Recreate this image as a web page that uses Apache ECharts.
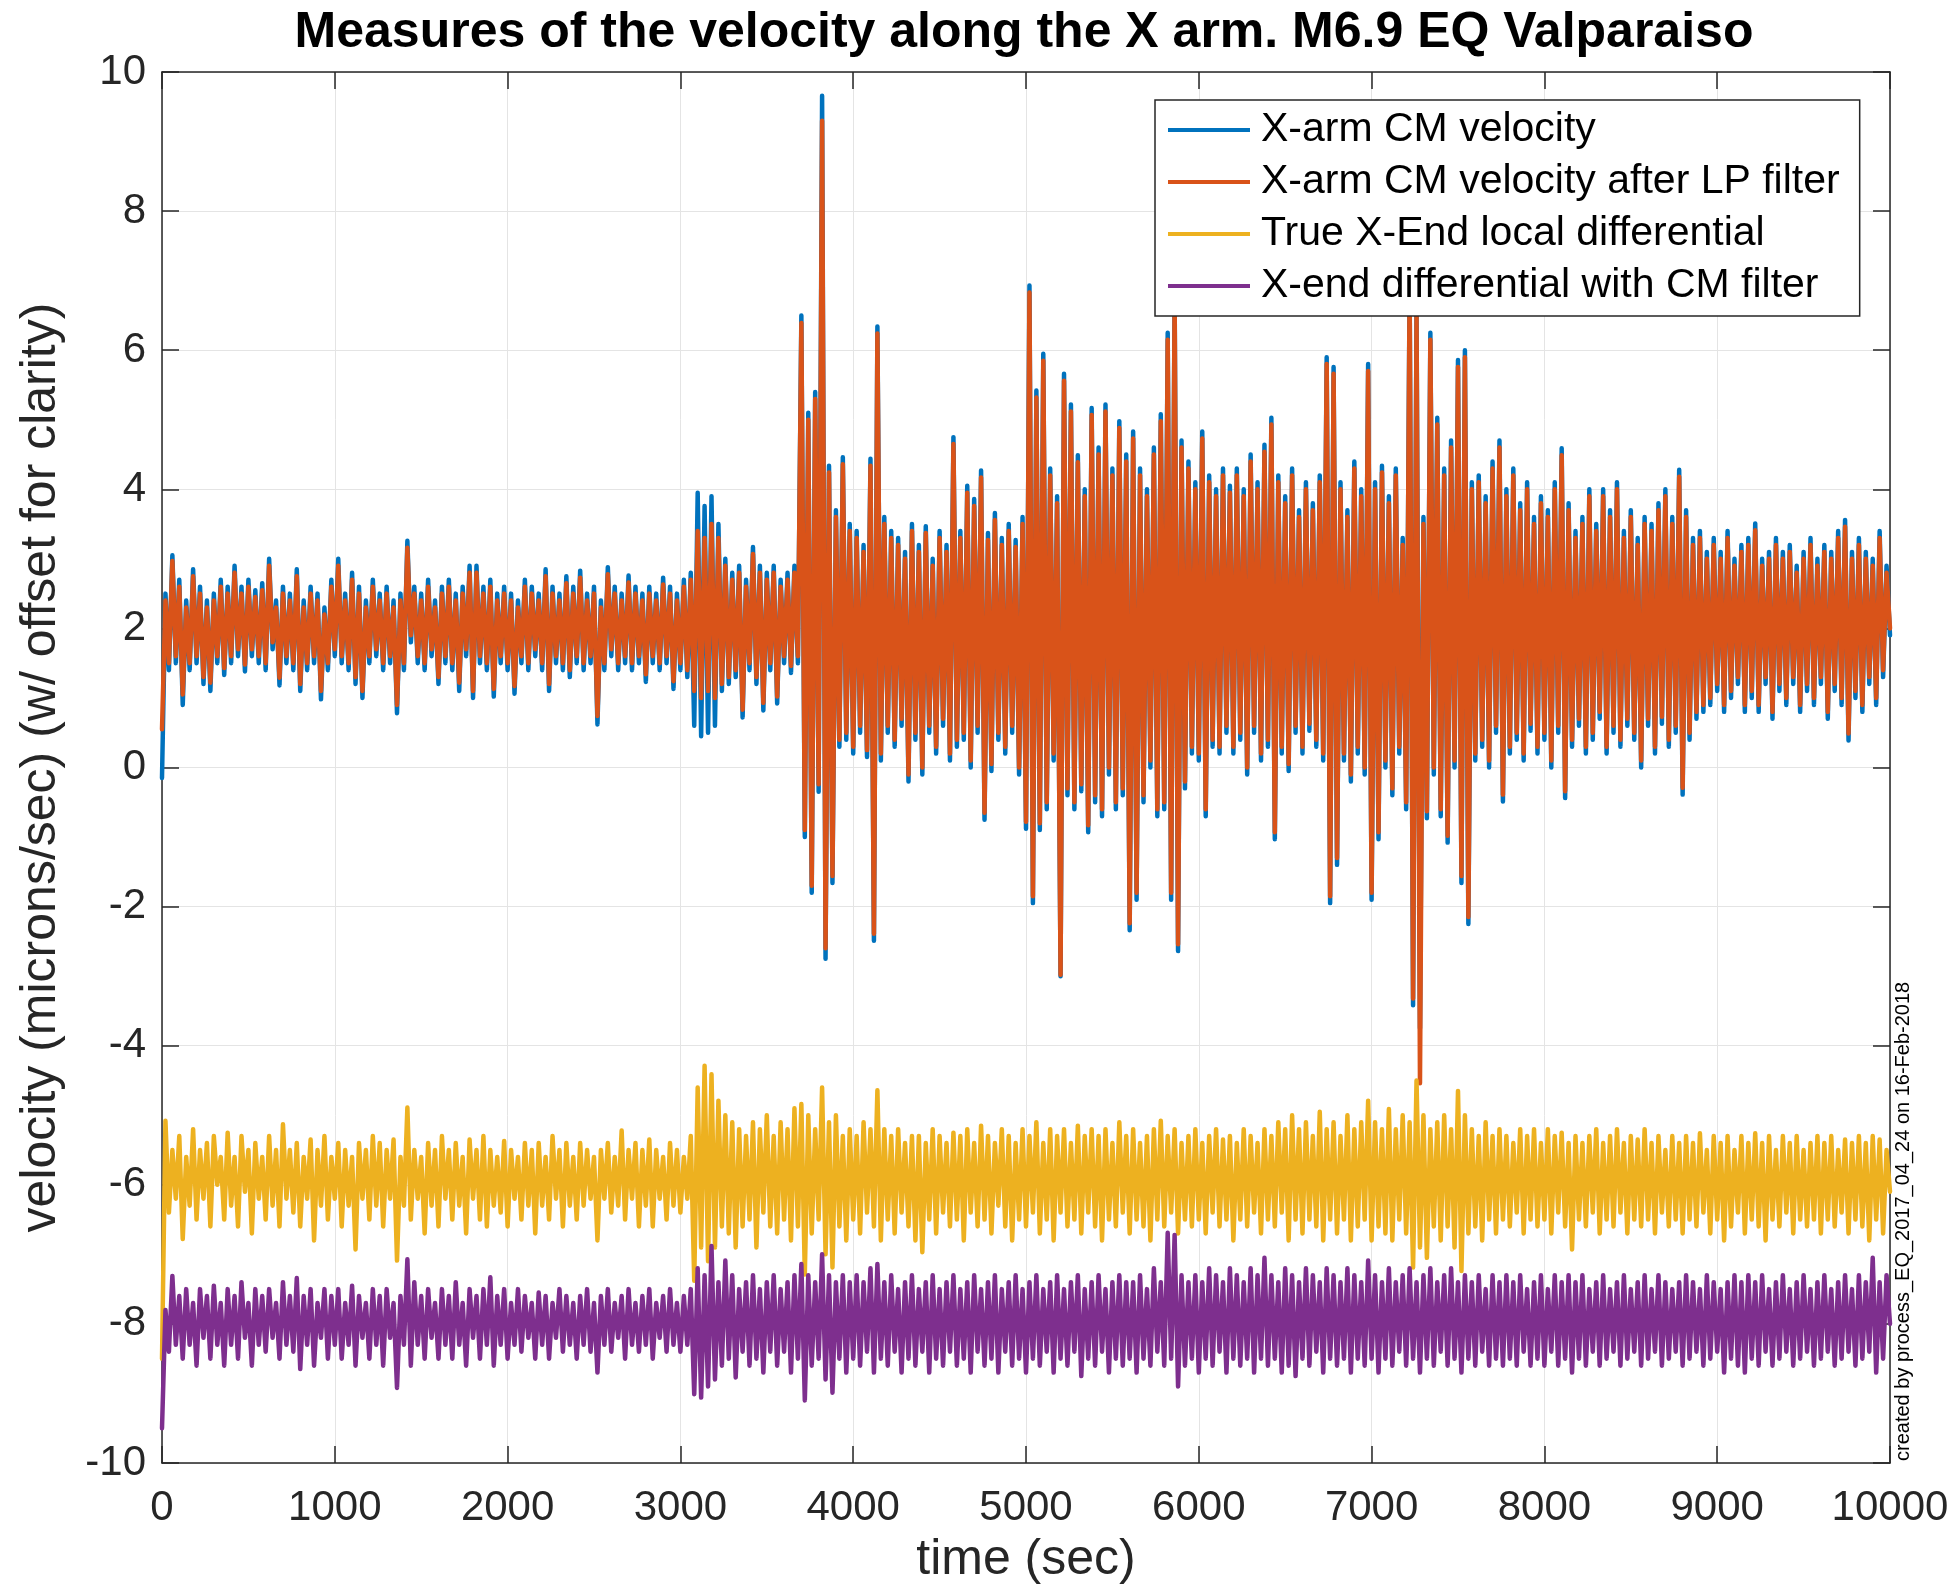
<!DOCTYPE html>
<html>
<head>
<meta charset="utf-8">
<title>X arm velocity - M6.9 EQ Valparaiso</title>
<script src="https://cdn.jsdelivr.net/npm/echarts@6/dist/echarts.min.js"></script>
<style>
  html, body { margin: 0; padding: 0; background: #ffffff; }
  #chart { width: 1954px; height: 1594px; }
</style>
</head>
<body>
<div id="chart"></div>
<script>
// Seconds between consecutive samples of every trace below.
const SAMPLE_STEP = 20;

// X-arm CM velocity (raw), microns/sec, offset +2
const cmVelocity = [
  -0.15, 2.5, 1.4, 3.05, 1.5, 2.7, 0.9, 2.4, 1.4, 2.85,
  1.5, 2.6, 1.2, 2.4, 1.1, 2.5, 1.5, 2.7, 1.33, 2.6,
  1.5, 2.9, 1.6, 2.6, 1.38, 2.7, 1.6, 2.55, 1.5, 2.65,
  1.4, 3.0, 1.7, 2.4, 1.18, 2.6, 1.5, 2.5, 1.4, 2.85,
  1.1, 2.4, 1.4, 2.6, 1.5, 2.5, 0.98, 2.3, 1.4, 2.7,
  1.6, 3.0, 1.5, 2.5, 1.4, 2.8, 1.2, 2.6, 1.0, 2.4,
  1.5, 2.7, 1.6, 2.5, 1.4, 2.6, 1.5, 2.4, 0.78, 2.5,
  1.4, 3.26, 1.8, 2.6, 1.5, 2.5, 1.4, 2.7, 1.6, 2.4,
  1.2, 2.6, 1.5, 2.7, 1.4, 2.5, 1.1, 2.6, 1.6, 2.9,
  1.0, 2.9, 1.5, 2.6, 1.4, 2.7, 1.02, 2.5, 1.5, 2.6,
  1.4, 2.5, 1.06, 2.4, 1.5, 2.7, 1.4, 2.6, 1.6, 2.5,
  1.4, 2.85, 1.1, 2.6, 1.5, 2.5, 1.4, 2.75, 1.3, 2.6,
  1.5, 2.83, 1.4, 2.5, 1.5, 2.6, 0.62, 2.4, 1.4, 2.88,
  1.6, 2.6, 1.4, 2.5, 1.5, 2.76, 1.4, 2.6, 1.5, 2.5,
  1.23, 2.6, 1.5, 2.5, 1.4, 2.73, 1.5, 2.6, 1.13, 2.5,
  1.4, 2.7, 1.3, 2.8, 0.6, 3.95, 0.45, 3.76, 0.5, 3.9,
  0.6, 3.5, 1.1, 3.0, 1.2, 2.8, 1.3, 2.9, 0.72, 2.7,
  1.4, 3.17, 1.2, 2.9, 0.82, 2.8, 1.4, 2.9, 0.92, 2.7,
  1.5, 2.8, 1.36, 2.9, 1.5, 6.5, -1.0, 5.1, -1.8, 5.4,
  -0.35, 9.66, -2.75, 4.34, -1.66, 3.7, 0.3, 4.46, 0.4, 3.5,
  0.2, 3.4, 0.5, 3.2, 0.15, 4.44, -2.49, 6.34, 0.1, 3.6,
  0.5, 3.4, 0.3, 3.3, 0.6, 3.1, -0.2, 3.5, 0.4, 3.2,
  -0.1, 3.47, 0.5, 3.0, 0.2, 3.4, 0.6, 3.2, 0.1, 4.75,
  0.3, 3.4, 0.4, 4.05, 0.0, 3.86, 0.5, 4.27, -0.75, 3.37,
  -0.05, 3.66, 0.4, 3.3, 0.2, 3.5, 0.5, 3.27, -0.1, 3.6,
  -0.88, 6.93, -1.95, 5.42, -0.9, 5.95, -0.6, 4.3, 0.1, 3.9,
  -3.0, 5.66, -0.4, 5.22, -0.6, 4.49, -0.34, 4.0, -0.93, 5.17,
  -0.5, 4.6, -0.7, 5.22, -0.1, 4.3, -0.6, 4.98, -0.4, 4.5,
  -2.34, 4.83, -1.9, 4.3, -0.5, 4.0, 0.0, 4.6, -0.7, 5.08,
  -0.6, 6.25, -1.9, 6.88, -2.64, 4.7, -0.3, 4.4, 0.2, 4.1,
  0.1, 4.83, -0.7, 4.2, 0.3, 4.0, 0.2, 4.3, 0.5, 4.05,
  0.2, 4.3, 0.4, 4.0, -0.1, 4.5, 0.5, 4.1, 0.1, 4.64,
  0.3, 5.03, -1.03, 4.2, 0.2, 3.9, -0.05, 4.3, 0.5, 3.7,
  0.2, 4.1, 0.53, 3.8, 0.3, 4.2, 0.1, 5.9, -1.95, 5.76,
  -1.4, 4.1, 0.1, 3.7, -0.2, 4.4, 0.2, 4.0, -0.1, 5.8,
  -1.9, 4.1, -1.03, 4.34, 0.0, 3.9, -0.4, 4.3, 0.2, 3.3,
  -0.6, 7.0, -3.42, 6.6, -3.75, 3.6, -0.73, 6.25, -0.1, 5.03,
  -0.7, 4.3, -1.08, 4.7, 0.0, 5.86, -1.66, 6.0, -2.25, 4.1,
  0.1, 4.2, 0.3, 3.9, 0.0, 4.4, 0.5, 4.7, -0.49, 4.0,
  0.2, 4.3, 0.4, 3.8, 0.1, 4.1, 0.53, 3.6, 0.2, 3.9,
  0.4, 3.7, 0.0, 4.1, 0.5, 4.59, -0.44, 3.8, 0.3, 3.4,
  0.6, 3.6, 0.2, 4.0, 0.4, 3.5, 0.7, 4.0, 0.2, 3.7,
  0.5, 4.1, 0.3, 3.4, 0.6, 3.7, 0.4, 3.3, 0.0, 3.6,
  0.6, 3.5, 0.2, 3.8, 0.63, 4.0, 0.3, 3.6, 0.5, 4.28,
  -0.39, 3.7, 0.4, 3.3, 0.7, 3.4, 0.8, 3.1, 0.9, 3.3,
  1.1, 3.1, 0.8, 3.4, 1.0, 3.0, 1.2, 3.2, 0.8, 3.3,
  1.0, 3.51, 0.8, 3.0, 1.2, 3.1, 0.7, 3.3, 1.1, 3.1,
  0.9, 3.2, 1.2, 2.9, 0.8, 3.1, 1.1, 3.3, 0.9, 3.0,
  1.2, 3.2, 0.7, 3.1, 1.1, 3.4, 0.9, 3.56, 0.39, 3.1,
  1.0, 3.3, 0.8, 3.1, 1.2, 3.0, 0.9, 3.4, 1.3, 2.9,
  1.9
];

// X-arm CM velocity after the low-pass filter, offset +2
const cmVelocityLP = [
  0.55, 2.4, 1.5, 2.97, 1.6, 2.6, 1.05, 2.3, 1.5, 2.75,
  1.6, 2.5, 1.3, 2.3, 1.22, 2.4, 1.6, 2.6, 1.43, 2.5,
  1.6, 2.8, 1.7, 2.5, 1.48, 2.6, 1.7, 2.45, 1.6, 2.55,
  1.5, 2.9, 1.8, 2.3, 1.29, 2.5, 1.6, 2.4, 1.5, 2.75,
  1.2, 2.3, 1.5, 2.5, 1.6, 2.4, 1.1, 2.2, 1.5, 2.6,
  1.7, 2.9, 1.6, 2.4, 1.5, 2.7, 1.3, 2.5, 1.1, 2.3,
  1.6, 2.6, 1.7, 2.4, 1.5, 2.5, 1.6, 2.3, 0.9, 2.4,
  1.5, 3.16, 1.9, 2.5, 1.6, 2.4, 1.5, 2.6, 1.7, 2.3,
  1.3, 2.5, 1.6, 2.6, 1.5, 2.4, 1.22, 2.5, 1.7, 2.8,
  1.1, 2.8, 1.6, 2.5, 1.5, 2.6, 1.13, 2.4, 1.6, 2.5,
  1.5, 2.4, 1.17, 2.3, 1.6, 2.6, 1.5, 2.5, 1.7, 2.4,
  1.5, 2.75, 1.2, 2.5, 1.6, 2.4, 1.5, 2.65, 1.4, 2.5,
  1.6, 2.73, 1.5, 2.4, 1.6, 2.5, 0.74, 2.3, 1.5, 2.78,
  1.7, 2.5, 1.5, 2.4, 1.6, 2.66, 1.5, 2.5, 1.6, 2.4,
  1.34, 2.5, 1.6, 2.4, 1.5, 2.63, 1.6, 2.5, 1.24, 2.4,
  1.5, 2.6, 1.4, 2.7, 1.1, 3.4, 1.0, 3.3, 1.1, 3.5,
  1.0, 3.3, 1.2, 2.9, 1.3, 2.7, 1.4, 2.8, 0.83, 2.6,
  1.5, 3.07, 1.3, 2.8, 0.93, 2.7, 1.5, 2.8, 1.02, 2.6,
  1.6, 2.7, 1.46, 2.8, 1.6, 6.39, -0.9, 5.0, -1.7, 5.3,
  -0.24, 9.3, -2.6, 4.24, -1.56, 3.6, 0.4, 4.36, 0.5, 3.4,
  0.3, 3.3, 0.6, 3.1, 0.25, 4.34, -2.39, 6.24, 0.2, 3.5,
  0.6, 3.3, 0.4, 3.2, 0.7, 3.0, -0.1, 3.4, 0.5, 3.1,
  0.0, 3.37, 0.6, 2.9, 0.3, 3.3, 0.7, 3.1, 0.2, 4.65,
  0.4, 3.3, 0.5, 3.95, 0.1, 3.76, 0.6, 4.17, -0.65, 3.27,
  0.05, 3.56, 0.5, 3.2, 0.3, 3.4, 0.6, 3.17, 0.0, 3.5,
  -0.78, 6.83, -1.85, 5.32, -0.8, 5.85, -0.5, 4.2, 0.2, 3.8,
  -2.98, 5.56, -0.3, 5.12, -0.5, 4.39, -0.24, 3.9, -0.83, 5.07,
  -0.4, 4.5, -0.6, 5.12, 0.0, 4.2, -0.5, 4.88, -0.3, 4.4,
  -2.24, 4.73, -1.8, 4.2, -0.4, 3.9, 0.1, 4.5, -0.6, 4.98,
  -0.5, 6.15, -1.8, 6.78, -2.54, 4.6, -0.2, 4.3, 0.3, 4.0,
  0.2, 4.73, -0.6, 4.1, 0.4, 3.9, 0.3, 4.2, 0.6, 3.95,
  0.3, 4.2, 0.5, 3.9, 0.0, 4.4, 0.6, 4.0, 0.2, 4.54,
  0.4, 4.93, -0.93, 4.1, 0.3, 3.8, 0.05, 4.2, 0.6, 3.6,
  0.3, 4.0, 0.63, 3.7, 0.4, 4.1, 0.2, 5.8, -1.85, 5.66,
  -1.3, 4.0, 0.2, 3.6, -0.1, 4.3, 0.3, 3.9, 0.0, 5.7,
  -1.8, 4.0, -0.93, 4.24, 0.1, 3.8, -0.3, 4.2, 0.3, 3.2,
  -0.5, 6.9, -3.32, 6.5, -4.54, 3.5, -0.63, 6.15, 0.0, 4.93,
  -0.6, 4.2, -0.98, 4.6, 0.1, 5.76, -1.56, 5.9, -2.15, 4.0,
  0.2, 4.1, 0.4, 3.8, 0.1, 4.3, 0.6, 4.6, -0.39, 3.9,
  0.3, 4.2, 0.5, 3.7, 0.2, 4.0, 0.63, 3.5, 0.3, 3.8,
  0.5, 3.6, 0.1, 4.0, 0.6, 4.49, -0.34, 3.7, 0.4, 3.3,
  0.7, 3.5, 0.3, 3.9, 0.5, 3.4, 0.8, 3.9, 0.3, 3.6,
  0.6, 4.0, 0.4, 3.3, 0.7, 3.6, 0.5, 3.2, 0.1, 3.5,
  0.7, 3.4, 0.3, 3.7, 0.73, 3.9, 0.4, 3.5, 0.6, 4.18,
  -0.29, 3.6, 0.5, 3.2, 0.8, 3.3, 0.9, 3.0, 1.0, 3.2,
  1.2, 3.0, 0.9, 3.3, 1.1, 2.9, 1.3, 3.1, 0.9, 3.2,
  1.1, 3.41, 0.9, 2.9, 1.3, 3.0, 0.8, 3.2, 1.2, 3.0,
  1.0, 3.1, 1.3, 2.8, 0.9, 3.0, 1.2, 3.2, 1.0, 2.9,
  1.3, 3.1, 0.8, 3.0, 1.2, 3.3, 1.0, 3.46, 0.49, 3.0,
  1.1, 3.2, 0.9, 3.0, 1.3, 2.9, 1.0, 3.3, 1.4, 2.8,
  2.0
];

// True X-End local differential, offset -6
const xEndTrueDiff = [
  -8.5, -5.08, -6.4, -5.5, -6.2, -5.3, -6.78, -5.6, -6.3, -5.2,
  -6.5, -5.5, -6.2, -5.4, -6.6, -5.3, -6.0, -5.6, -6.5, -5.25,
  -6.3, -5.6, -6.6, -5.3, -6.1, -5.5, -6.7, -5.4, -6.2, -5.6,
  -6.5, -5.3, -6.3, -5.5, -6.6, -5.13, -6.2, -5.5, -6.4, -5.4,
  -6.6, -5.6, -6.2, -5.35, -6.8, -5.5, -6.3, -5.3, -6.5, -5.6,
  -6.2, -5.4, -6.6, -5.5, -6.3, -5.6, -6.93, -5.4, -6.2, -5.5,
  -6.5, -5.3, -6.3, -5.4, -6.6, -5.5, -6.2, -5.35, -7.09, -5.6,
  -6.3, -4.89, -6.5, -5.5, -6.2, -5.6, -6.7, -5.4, -6.3, -5.5,
  -6.6, -5.3, -6.2, -5.5, -6.5, -5.4, -6.3, -5.6, -6.7, -5.35,
  -6.2, -5.5, -6.5, -5.3, -6.6, -5.5, -6.3, -5.6, -6.4, -5.37,
  -6.6, -5.5, -6.2, -5.6, -6.5, -5.4, -6.3, -5.5, -6.7, -5.4,
  -6.3, -5.6, -6.5, -5.3, -6.2, -5.5, -6.6, -5.4, -6.3, -5.6,
  -6.5, -5.4, -6.3, -5.5, -6.2, -5.6, -6.8, -5.5, -6.2, -5.4,
  -6.4, -5.6, -6.3, -5.22, -6.5, -5.5, -6.2, -5.4, -6.6, -5.5,
  -6.3, -5.35, -6.6, -5.5, -6.2, -5.6, -6.5, -5.4, -6.3, -5.5,
  -6.4, -5.6, -6.2, -5.3, -7.38, -4.6, -6.9, -4.29, -7.1, -4.41,
  -6.9, -4.79, -6.6, -5.0, -6.7, -5.1, -6.9, -5.2, -6.6, -5.3,
  -6.5, -5.1, -6.9, -5.2, -6.4, -5.0, -6.6, -5.3, -6.7, -5.1,
  -6.5, -5.2, -6.8, -4.9, -6.6, -4.84, -7.29, -5.0, -6.7, -5.2,
  -6.5, -4.6, -7.0, -5.1, -7.19, -5.0, -6.6, -5.3, -6.8, -5.2,
  -6.5, -5.3, -6.7, -5.1, -6.4, -5.2, -6.6, -4.64, -6.8, -5.2,
  -6.5, -5.3, -6.7, -5.2, -6.4, -5.4, -6.6, -5.3, -6.8, -5.3,
  -6.97, -5.4, -6.5, -5.2, -6.7, -5.3, -6.4, -5.4, -6.6, -5.25,
  -6.5, -5.3, -6.8, -5.2, -6.4, -5.4, -6.6, -5.15, -6.5, -5.3,
  -6.7, -5.4, -6.3, -5.2, -6.6, -5.3, -6.8, -5.4, -6.5, -5.2,
  -6.6, -5.3, -6.4, -5.1, -6.7, -5.4, -6.5, -5.2, -6.8, -5.3,
  -6.4, -5.2, -6.6, -5.4, -6.5, -5.15, -6.7, -5.3, -6.4, -5.2,
  -6.6, -5.3, -6.8, -5.2, -6.5, -5.4, -6.6, -5.1, -6.4, -5.3,
  -6.7, -5.2, -6.5, -5.4, -6.6, -5.3, -6.8, -5.2, -6.5, -5.08,
  -6.6, -5.3, -6.4, -5.2, -6.7, -5.4, -6.5, -5.3, -6.6, -5.2,
  -6.5, -5.4, -6.7, -5.3, -6.4, -5.2, -6.6, -5.35, -6.5, -5.3,
  -6.8, -5.4, -6.5, -5.2, -6.6, -5.3, -6.4, -5.4, -6.7, -5.2,
  -6.5, -5.3, -6.6, -5.1, -6.4, -5.2, -6.8, -5.0, -6.5, -5.2,
  -6.7, -5.1, -6.5, -5.3, -6.6, -4.95, -6.8, -5.2, -6.5, -5.1,
  -6.7, -5.3, -6.5, -5.0, -6.8, -5.2, -6.6, -5.1, -6.5, -4.79,
  -6.8, -5.1, -6.6, -5.2, -6.7, -4.91, -6.8, -5.2, -6.5, -5.0,
  -6.7, -5.1, -7.19, -4.5, -6.9, -5.0, -7.05, -5.2, -6.6, -5.1,
  -6.8, -5.0, -6.6, -5.2, -6.9, -4.65, -7.24, -5.0, -6.7, -5.2,
  -6.6, -5.3, -6.8, -5.1, -6.5, -5.3, -6.7, -5.2, -6.5, -5.3,
  -6.6, -5.4, -6.4, -5.2, -6.7, -5.3, -6.5, -5.2, -6.6, -5.4,
  -6.5, -5.2, -6.7, -5.3, -6.4, -5.25, -6.6, -5.4, -6.93, -5.3,
  -6.5, -5.4, -6.6, -5.3, -6.4, -5.2, -6.7, -5.4, -6.5, -5.3,
  -6.6, -5.2, -6.4, -5.4, -6.7, -5.3, -6.5, -5.35, -6.6, -5.2,
  -6.5, -5.4, -6.7, -5.3, -6.4, -5.5, -6.6, -5.3, -6.5, -5.4,
  -6.7, -5.3, -6.5, -5.4, -6.6, -5.26, -6.4, -5.5, -6.7, -5.3,
  -6.5, -5.4, -6.8, -5.3, -6.6, -5.5, -6.4, -5.3, -6.7, -5.4,
  -6.5, -5.26, -6.6, -5.4, -6.8, -5.3, -6.5, -5.5, -6.6, -5.3,
  -6.4, -5.4, -6.7, -5.3, -6.5, -5.5, -6.6, -5.4, -6.5, -5.3,
  -6.7, -5.4, -6.5, -5.3, -6.6, -5.5, -6.4, -5.35, -6.7, -5.4,
  -6.5, -5.3, -6.6, -5.4, -6.8, -5.3, -6.5, -5.35, -6.7, -5.5,
  -6.1
];

// X-end differential with CM filter, offset -8
const xEndDiffCM = [
  -9.5, -7.8, -8.4, -7.31, -8.3, -7.6, -8.5, -7.5, -8.3, -7.7,
  -8.6, -7.5, -8.2, -7.6, -8.5, -7.45, -8.3, -7.7, -8.6, -7.5,
  -8.3, -7.6, -8.5, -7.4, -8.2, -7.7, -8.6, -7.5, -8.3, -7.6,
  -8.4, -7.5, -8.2, -7.7, -8.5, -7.4, -8.3, -7.6, -8.4, -7.34,
  -8.65, -7.6, -8.3, -7.5, -8.6, -7.7, -8.2, -7.5, -8.5, -7.6,
  -8.3, -7.5, -8.5, -7.7, -8.3, -7.45, -8.6, -7.6, -8.2, -7.7,
  -8.5, -7.5, -8.3, -7.6, -8.6, -7.5, -8.2, -7.7, -8.92, -7.6,
  -8.3, -7.07, -8.6, -7.4, -8.3, -7.6, -8.5, -7.5, -8.2, -7.7,
  -8.5, -7.5, -8.3, -7.6, -8.5, -7.4, -8.3, -7.7, -8.6, -7.5,
  -8.2, -7.6, -8.5, -7.5, -8.3, -7.33, -8.6, -7.6, -8.3, -7.5,
  -8.5, -7.7, -8.3, -7.5, -8.4, -7.6, -8.2, -7.7, -8.5, -7.55,
  -8.3, -7.6, -8.5, -7.7, -8.2, -7.5, -8.4, -7.6, -8.3, -7.7,
  -8.5, -7.6, -8.3, -7.5, -8.4, -7.7, -8.7, -7.6, -8.3, -7.5,
  -8.4, -7.7, -8.2, -7.6, -8.5, -7.5, -8.3, -7.7, -8.4, -7.6,
  -8.3, -7.5, -8.5, -7.7, -8.2, -7.6, -8.4, -7.5, -8.3, -7.7,
  -8.4, -7.6, -8.3, -7.5, -9.01, -7.2, -9.06, -7.3, -8.9, -6.88,
  -8.8, -7.4, -8.6, -7.09, -8.5, -7.3, -8.77, -7.5, -8.4, -7.4,
  -8.6, -7.3, -8.5, -7.5, -8.7, -7.4, -8.4, -7.3, -8.6, -7.5,
  -8.4, -7.4, -8.7, -7.3, -8.5, -7.14, -9.1, -7.3, -8.6, -7.4,
  -8.5, -7.0, -8.8, -7.3, -8.99, -7.4, -8.5, -7.3, -8.7, -7.4,
  -8.5, -7.3, -8.6, -7.4, -8.4, -7.2, -8.7, -7.14, -8.5, -7.4,
  -8.6, -7.3, -8.4, -7.5, -8.7, -7.4, -8.5, -7.3, -8.6, -7.5,
  -8.4, -7.4, -8.7, -7.3, -8.5, -7.5, -8.6, -7.4, -8.4, -7.3,
  -8.6, -7.5, -8.5, -7.4, -8.7, -7.3, -8.4, -7.5, -8.6, -7.4,
  -8.5, -7.3, -8.7, -7.5, -8.4, -7.4, -8.6, -7.3, -8.5, -7.5,
  -8.7, -7.4, -8.5, -7.3, -8.6, -7.5, -8.4, -7.4, -8.7, -7.3,
  -8.5, -7.5, -8.6, -7.4, -8.4, -7.3, -8.75, -7.5, -8.5, -7.4,
  -8.6, -7.3, -8.4, -7.5, -8.7, -7.4, -8.5, -7.3, -8.6, -7.4,
  -8.5, -7.4, -8.7, -7.3, -8.5, -7.5, -8.6, -7.2, -8.4, -7.4,
  -8.6, -6.69, -8.5, -6.72, -8.9, -7.3, -8.6, -7.4, -8.5, -7.3,
  -8.7, -7.4, -8.5, -7.2, -8.6, -7.3, -8.4, -7.4, -8.7, -7.2,
  -8.5, -7.3, -8.6, -7.4, -8.5, -7.2, -8.7, -7.3, -8.5, -7.05,
  -8.6, -7.3, -8.5, -7.4, -8.7, -7.2, -8.6, -7.3, -8.75, -7.4,
  -8.5, -7.2, -8.6, -7.3, -8.4, -7.4, -8.7, -7.2, -8.5, -7.3,
  -8.6, -7.4, -8.5, -7.2, -8.7, -7.3, -8.5, -7.4, -8.6, -7.09,
  -8.5, -7.3, -8.7, -7.4, -8.5, -7.2, -8.6, -7.4, -8.4, -7.3,
  -8.6, -7.2, -8.5, -7.4, -8.7, -7.3, -8.5, -7.2, -8.6, -7.4,
  -8.4, -7.3, -8.6, -7.2, -8.5, -7.4, -8.7, -7.3, -8.5, -7.4,
  -8.6, -7.3, -8.4, -7.5, -8.6, -7.3, -8.5, -7.4, -8.6, -7.3,
  -8.5, -7.4, -8.6, -7.3, -8.4, -7.5, -8.6, -7.4, -8.5, -7.3,
  -8.6, -7.5, -8.4, -7.3, -8.6, -7.4, -8.5, -7.3, -8.7, -7.4,
  -8.5, -7.3, -8.6, -7.5, -8.4, -7.4, -8.6, -7.3, -8.5, -7.5,
  -8.4, -7.4, -8.6, -7.3, -8.5, -7.5, -8.4, -7.4, -8.6, -7.3,
  -8.5, -7.5, -8.4, -7.3, -8.6, -7.4, -8.5, -7.5, -8.4, -7.4,
  -8.6, -7.3, -8.5, -7.4, -8.4, -7.5, -8.6, -7.3, -8.5, -7.4,
  -8.4, -7.5, -8.7, -7.4, -8.5, -7.3, -8.6, -7.4, -8.7, -7.3,
  -8.5, -7.4, -8.6, -7.3, -8.4, -7.5, -8.6, -7.4, -8.5, -7.3,
  -8.4, -7.5, -8.6, -7.4, -8.5, -7.3, -8.4, -7.5, -8.6, -7.4,
  -8.5, -7.3, -8.4, -7.5, -8.6, -7.4, -8.5, -7.3, -8.4, -7.5,
  -8.6, -7.3, -8.5, -7.4, -8.4, -7.05, -8.7, -7.4, -8.5, -7.3,
  -8.0
];

const seriesNames = [
  'X-arm CM velocity',
  'X-arm CM velocity after LP filter',
  'True X-End local differential',
  'X-end differential with CM filter'
];
const seriesColors = ['#0072BD', '#D95319', '#EDB120', '#7E2F8E'];
const seriesValues = [cmVelocity, cmVelocityLP, xEndTrueDiff, xEndDiffCM];

const FONT = '"Liberation Sans", Arial, Helvetica, sans-serif';
const INK = '#262626';

function toPairs(values) {
  return values.map((v, i) => [i * SAMPLE_STEP, v]);
}

const chart = echarts.init(document.getElementById('chart'), null, { renderer: 'canvas' });

const axisLineStyle = { color: INK, width: 1.5 };
const tickStyle = { show: true, inside: true, length: 17, lineStyle: { color: INK, width: 1.5 } };
const plainNumber = (v) => String(v);

const option = {
  backgroundColor: '#ffffff',
  animation: false,
  textStyle: { fontFamily: FONT },
  title: {
    text: 'Measures of the velocity along the X arm. M6.9 EQ Valparaiso',
    left: 1024,
    top: 8,
    textAlign: 'center',
    padding: 0,
    textStyle: { fontFamily: FONT, fontSize: 50, fontWeight: 'bold', color: '#000000' }
  },
  grid: { left: 162, top: 72, right: 64, bottom: 131, containLabel: false },
  legend: {
    orient: 'vertical',
    left: 1155,
    top: 100,
    data: seriesNames,
    icon: 'rect',
    itemWidth: 82,
    itemHeight: 4,
    itemGap: 8,
    padding: [8, 20, 8, 13],
    backgroundColor: '#ffffff',
    borderColor: INK,
    borderWidth: 1.5,
    borderRadius: 0,
    selectedMode: false,
    textStyle: { fontFamily: FONT, fontSize: 41, color: '#000000', lineHeight: 44, padding: [0, 0, 0, 6] }
  },
  xAxis: [
    {
      type: 'value', min: 0, max: 10000, interval: 1000, position: 'bottom',
      name: 'time (sec)', nameLocation: 'middle', nameGap: 72,
      nameTextStyle: { fontFamily: FONT, fontSize: 50, color: INK },
      axisLine: { show: true, onZero: false, lineStyle: axisLineStyle },
      axisTick: tickStyle,
      axisLabel: { show: true, margin: 24, fontFamily: FONT, fontSize: 42, color: INK, formatter: plainNumber },
      splitLine: { show: true, lineStyle: { color: '#e4e4e4', width: 1 } }
    },
    {
      type: 'value', min: 0, max: 10000, interval: 1000, position: 'top',
      axisLine: { show: true, onZero: false, lineStyle: axisLineStyle },
      axisTick: tickStyle,
      axisLabel: { show: false },
      splitLine: { show: false }
    }
  ],
  yAxis: [
    {
      type: 'value', min: -10, max: 10, interval: 2, position: 'left',
      name: 'velocity (microns/sec) (w/ offset for clarity)', nameLocation: 'middle', nameGap: 96,
      nameRotate: 90,
      nameTextStyle: { fontFamily: FONT, fontSize: 50, color: INK },
      axisLine: { show: true, onZero: false, lineStyle: axisLineStyle },
      axisTick: tickStyle,
      axisLabel: { show: true, margin: 16, fontFamily: FONT, fontSize: 42, color: INK, formatter: plainNumber },
      splitLine: { show: true, lineStyle: { color: '#e4e4e4', width: 1 } }
    },
    {
      type: 'value', min: -10, max: 10, interval: 2, position: 'right',
      axisLine: { show: true, onZero: false, lineStyle: axisLineStyle },
      axisTick: tickStyle,
      axisLabel: { show: false },
      splitLine: { show: false }
    }
  ],
  series: seriesNames.map((name, k) => ({
    name: name,
    type: 'line',
    xAxisIndex: 0,
    yAxisIndex: 0,
    data: toPairs(seriesValues[k]),
    showSymbol: false,
    symbol: 'none',
    color: seriesColors[k],
    lineStyle: { color: seriesColors[k], width: 4.5, join: 'round', cap: 'round' },
    emphasis: { disabled: true },
    z: 2 + k
  })),
  graphic: [
    {
      type: 'text',
      x: 1903,
      y: 1461,
      rotation: Math.PI / 2,
      style: {
        text: 'created by process_EQ_2017_04_24 on 16-Feb-2018',
        fontFamily: FONT,
        fontSize: 20,
        fill: '#000000',
        textAlign: 'left',
        textVerticalAlign: 'middle'
      }
    }
  ]
};

chart.setOption(option);
</script>
</body>
</html>
